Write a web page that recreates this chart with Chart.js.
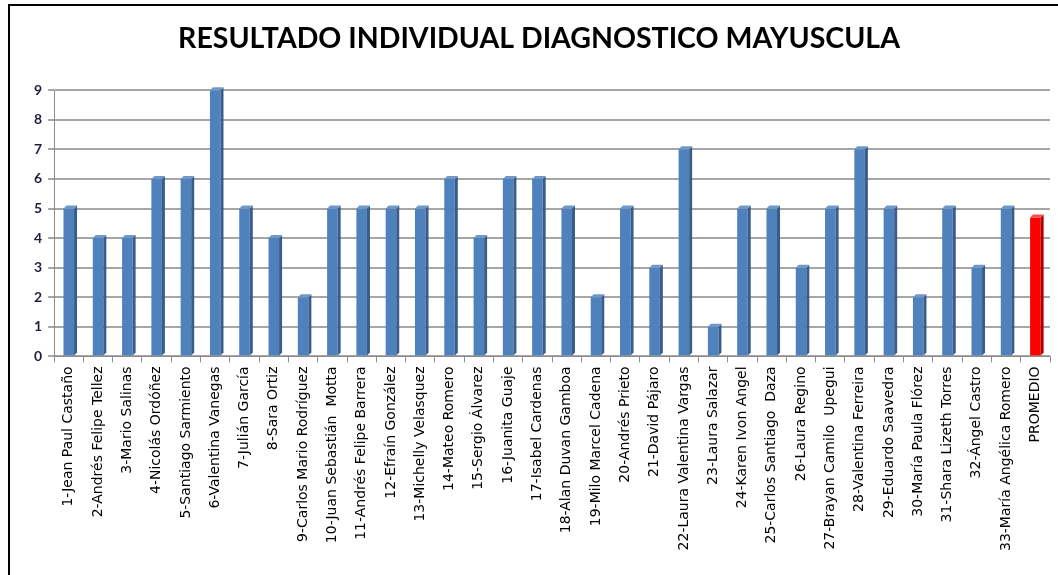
<!DOCTYPE html>
<html>
<head>
<meta charset="utf-8">
<script src="https://cdn.jsdelivr.net/npm/chart.js@4"></script>
<style>
  body { margin: 0; background: #fff; }
  #wrap { position: relative; width: 1058px; height: 575px; }
  #frame { position: absolute; left: 8px; top: 4px; width: 1060px; height: 580px;
           border-left: 2px solid #000; border-top: 2px solid #000; pointer-events: none; }
</style>
</head>
<body>
<div id="wrap">
  <canvas id="resultChart" width="1058" height="575"></canvas>
  <div id="frame"></div>
</div>
<script>
const students = [
  '1-Jean Paul Castaño', '2-Andrés Felipe Tellez', '3-Mario Salinas', '4-Nicolás Ordóñez',
  '5-Santiago Sarmiento', '6-Valentina Vanegas', '7-Julián García', '8-Sara Ortiz',
  '9-Carlos Mario Rodríguez', '10-Juan Sebastián  Motta', '11-Andrés Felipe Barrera',
  '12-Efraín González', '13-Michelly Velasquez', '14-Mateo Romero', '15-Sergio Álvarez',
  '16-Juanita Guaje', '17-Isabel Cardenas', '18-Alan Duvan Gamboa', '19-Milo Marcel Cadena',
  '20-Andrés Prieto', '21-David Pájaro', '22-Laura Valentina Vargas', '23-Laura Salazar',
  '24-Karen Ivon Angel', '25-Carlos Santiago  Daza', '26-Laura Regino',
  '27-Brayan Camilo  Upegui', '28-Valentina Ferreira', '29-Eduardo Saavedra',
  '30-María Paula Flórez', '31-Shara Lizeth Torres', '32-Ángel Castro',
  '33-María Angélica Romero', 'PROMEDIO'
];
const scores = [5, 4, 4, 6, 6, 9, 5, 4, 2, 5, 5, 5, 5, 6, 4, 6, 6, 5, 2, 5, 3, 7, 1, 5, 5, 3, 5, 7, 5, 2, 5, 3, 5, 4.7];
const yTicks = [0, 1, 2, 3, 4, 5, 6, 7, 8, 9];

const frontColors = scores.map((v, i) => i === scores.length - 1 ? '#ff0000' : '#4f81bd');
const sideColors = scores.map((v, i) => i === scores.length - 1 ? '#b00000' : '#385d8a');
const topColors = scores.map((v, i) => i === scores.length - 1 ? '#ff4a4a' : '#6f98c8');

// fake the excel 3d look: side face and top cap for each bar
const bar3d = {
  id: 'bar3d',
  afterDatasetsDraw(chart) {
    const ctx = chart.ctx;
    const d = 3;
    chart.getDatasetMeta(0).data.forEach((bar, i) => {
      const half = bar.width / 2;
      const r = bar.x + half, l = bar.x - half;
      ctx.save();
      ctx.fillStyle = sideColors[i];
      ctx.beginPath();
      ctx.moveTo(r, bar.y);
      ctx.lineTo(r + d, bar.y - d);
      ctx.lineTo(r + d, bar.base - d);
      ctx.lineTo(r, bar.base);
      ctx.closePath();
      ctx.fill();
      ctx.fillStyle = topColors[i];
      ctx.beginPath();
      ctx.moveTo(l, bar.y);
      ctx.lineTo(r, bar.y);
      ctx.lineTo(r + d, bar.y - d);
      ctx.lineTo(l + d, bar.y - d);
      ctx.closePath();
      ctx.fill();
      ctx.restore();
    });
  }
};

const ctx = document.getElementById('resultChart').getContext('2d');
const chart = new Chart(ctx, {
  type: 'bar',
  data: {
    labels: students,
    datasets: [{
      data: scores,
      backgroundColor: frontColors,
      borderWidth: 0,
      barPercentage: 0.36,
      categoryPercentage: 1
    }]
  },
  options: {
    responsive: false,
    animation: false,
    layout: { padding: { left: 28, right: 8, top: 14, bottom: 20 } },
    plugins: {
      legend: { display: false },
      tooltip: { enabled: false },
      title: {
        display: true,
        text: 'RESULTADO INDIVIDUAL DIAGNOSTICO MAYUSCULA',
        color: '#000',
        font: { family: 'Lato', size: 28.5, weight: 'bold' },
        padding: { top: 8, bottom: 34 }
      }
    },
    scales: {
      x: {
        grid: { drawOnChartArea: false, color: '#8c8c8c', tickLength: 6 },
        border: { color: '#8c8c8c', width: 1 },
        ticks: {
          minRotation: 90, maxRotation: 90, autoSkip: false,
          color: '#000', font: { family: 'DejaVu Sans', size: 14 }, padding: 4
        }
      },
      y: {
        min: 0, max: 9,
        afterBuildTicks(axis) { axis.ticks = yTicks.map(v => ({ value: v })); },
        grid: { color: '#a6a6a6', lineWidth: 2, tickLength: 6 },
        border: { color: '#8c8c8c', width: 1 },
        ticks: { color: '#1f1f3f', font: { family: 'Lato', size: 14, weight: 'bold' }, padding: 6 }
      }
    }
  },
  plugins: [bar3d]
});
</script>
</body>
</html>
